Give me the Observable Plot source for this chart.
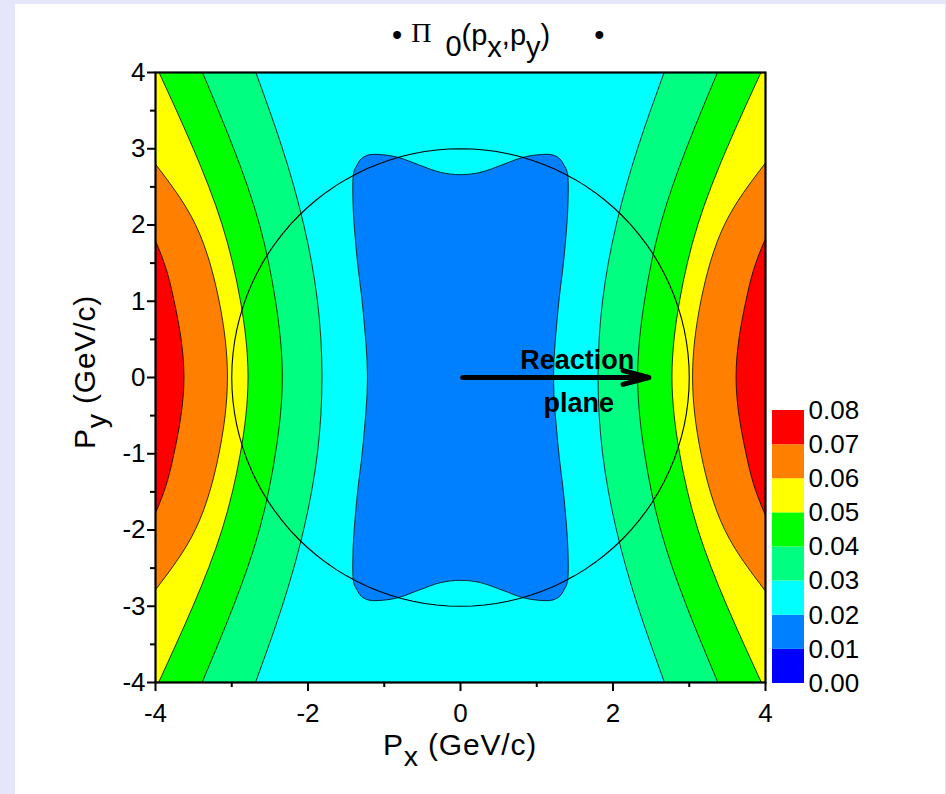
<!DOCTYPE html>
<html>
<head>
<meta charset="utf-8">
<script src="https://cdn.jsdelivr.net/npm/d3@7"></script>
<script src="https://cdn.jsdelivr.net/npm/@observablehq/plot@0.6"></script>
<style>
  html, body { margin: 0; padding: 0; background: #e6e6fa; }
  body { width: 946px; height: 794px; position: relative; overflow: hidden;
         font-family: "Liberation Sans", Arial, sans-serif; color: #000; }
  #panel { position: absolute; left: 15px; top: 4px; width: 930px; height: 790px; background: #fff; }
  #chart { position: absolute; left: 0; top: 0; }
  #legend { position: absolute; left: 760px; top: 395px; }
  #title { position: absolute; left: 392px; top: 18px; font-size: 29px; white-space: nowrap; line-height: 34px; }
  #title span { position: relative; display: inline-block; }
  #title .pi { font-family: "Liberation Serif", "DejaVu Serif", serif; font-size: 28px; top: -3px; margin-left: 9px; }
  #title .zero { top: 11px; margin-left: 14px; }
  #title .sb { top: 12px; }
  #title .end { margin-left: 44px; }
  .axtitle { position: absolute; font-size: 30px; white-space: nowrap; text-align: center; letter-spacing: 0.8px; }
  .axtitle .sb { position: relative; top: 0.4em; font-size: 0.95em; }
  #xtitle { left: 260px; width: 400px; top: 727px; line-height: 36px; }
  #ytitle { left: -115px; width: 400px; top: 354px; line-height: 36px; transform: rotate(-90deg); }
</style>
</head>
<body>
<div id="panel"></div>
<div id="chart"></div>
<div id="legend"></div>
<div id="title"><span>•</span><span class="pi">Π</span><span class="zero">0</span><span>(p</span><span class="sb">x</span><span>,p</span><span class="sb">y</span><span>)</span><span class="end">•</span></div>
<div id="xtitle" class="axtitle">P<span class="sb">x</span> (GeV/c)</div>
<div id="ytitle" class="axtitle">P<span class="sb">y</span> (GeV/c)</div>
<script>
// Contour levels of Π0(px, py) and the fill of each band (lower edge → colour).
const levels = [0, 0.01, 0.02, 0.03, 0.04, 0.05, 0.06, 0.07, 0.08];
const bandColors = ["#0000ff", "#0080ff", "#00ffff", "#00ff80", "#00ff00", "#ffff00", "#ff8000", "#ff0000"];

// Contour lines in the quadrant px ≥ 0, py ≥ 0 (the field is mirror-symmetric in px and py).
// For each level: rows of py and the px where that contour crosses the row;
// rows past the right edge follow the contour on out of the frame and are clipped.
const level03Py = [0, 1, 2, 3, 4];
const level03Px = [1.81, 1.87, 2.05, 2.33, 2.68];
const level04Py = [0, 1, 2, 3, 4];
const level04Px = [2.33, 2.42, 2.63, 2.97, 3.38];
const level05Py = [0, 1, 2, 3, 4];
const level05Px = [2.78, 2.88, 3.12, 3.50, 3.95];
const level06Py = [0, 1, 2, 2.8, 3.5, 4];
const level06Px = [3.05, 3.16, 3.47, 4.0, 4.52, 4.92];
const level07Py = [0, 1, 1.8, 3, 4];
const level07Px = [3.62, 3.75, 4.0, 4.6, 5.15];

// The 0.02 contour: closed pocket round the origin, quadrant outline from top centre to right centre.
const pocketPx = [0, 0.26, 0.55, 0.81, 1.01, 1.20, 1.30, 1.36, 1.40, 1.41, 1.36, 1.28, 1.22];
const pocketPy = [2.66, 2.69, 2.79, 2.885, 2.92, 2.92, 2.87, 2.78, 2.69, 2.30, 1.60, 0.90, 0];

// Reference circle |p| = 3 GeV/c and the reaction-plane arrow.
const circleRadius = 3;
const arrowFrom = [0.03, 0];
const arrowTo = [2.47, 0];
const arrowLabels = [
  {px: 1.53, py: 0.23, text: "Reaction"},
  {px: 1.55, py: -0.34, text: "plane"}
];

// Axis ticks.
const xMajor = [-4, -2, 0, 2, 4];
const xMinor = [-3, -1, 1, 3];
const yMajor = [-4, -3, -2, -1, 0, 1, 2, 3, 4];
const yMinor = [-3.5, -2.5, -1.5, -0.5, 0.5, 1.5, 2.5, 3.5];

const black = "#000";

// Mirror a quadrant contour into a band spanning -px..px for py from -4 to 4.
function bandRows(pys, pxs) {
  const upper = pys.map((py, i) => ({py, lo: -pxs[i], hi: pxs[i]}));
  const lower = upper.filter(d => d.py > 0).map(d => ({...d, py: -d.py})).reverse();
  return lower.concat(upper);
}

// Interior of each open contour, filled with the band just below that level.
const contours = [
  {rows: bandRows(level07Py, level07Px), fill: bandColors[6]},
  {rows: bandRows(level06Py, level06Px), fill: bandColors[5]},
  {rows: bandRows(level05Py, level05Px), fill: bandColors[4]},
  {rows: bandRows(level04Py, level04Px), fill: bandColors[3]},
  {rows: bandRows(level03Py, level03Px), fill: bandColors[2]}
];

// Full closed outline of the 0.02 pocket from its quadrant.
const q1 = pocketPx.map((x, i) => [x, pocketPy[i]]);
const q4 = q1.slice(0, -1).reverse().map(([x, y]) => [x, -y]);
const q3 = q1.slice(1).map(([x, y]) => [-x, -y]);
const q2 = q1.slice(1, -1).reverse().map(([x, y]) => [-x, y]);
const pocket = q1.concat(q4, q3, q2);

const circle = d3.range(0, 361, 3).map(a => [
  circleRadius * Math.cos(a * Math.PI / 180),
  circleRadius * Math.sin(a * Math.PI / 180)
]);

const fontFamily = "'Liberation Sans', Arial, sans-serif";

const chart = Plot.plot({
  width: 946,
  height: 794,
  marginLeft: 155,
  marginRight: 181,
  marginTop: 72,
  marginBottom: 112,
  x: {domain: [-4, 4], label: null},
  y: {domain: [-4, 4], label: null},
  style: {background: "transparent", fontFamily, color: black, overflow: "visible"},
  marks: [
    Plot.frame({fill: bandColors[7], stroke: null}),
    ...contours.map(c => Plot.areaX(c.rows, {
      y: "py", x1: "lo", x2: "hi", curve: "natural",
      fill: c.fill, stroke: black, strokeWidth: 0.8, clip: true
    })),
    Plot.line(pocket, {
      x: d => d[0], y: d => d[1], curve: "catmull-rom-closed",
      fill: bandColors[1], stroke: black, strokeWidth: 0.8
    }),
    Plot.line(circle, {x: d => d[0], y: d => d[1], stroke: black, strokeWidth: 1.1}),
    Plot.arrow([{from: arrowFrom, to: arrowTo}], {
      x1: d => d.from[0], y1: d => d.from[1], x2: d => d.to[0], y2: d => d.to[1],
      stroke: black, strokeWidth: 5, headAngle: 30, headLength: 8
    }),
    Plot.text(arrowLabels, {
      x: "px", y: "py", text: "text", fontSize: 27, fontWeight: "bold",
      fill: black, letterSpacing: "1.8px"
    }),
    Plot.frame({stroke: black, strokeWidth: 2.2}),
    Plot.axisX({ticks: xMajor, tickSize: 9, tickPadding: 12, fontSize: 26, strokeWidth: 2,
                tickFormat: d => String(d), label: null}),
    Plot.axisX({ticks: xMinor, tickSize: 5, strokeWidth: 2, tickFormat: () => "", label: null}),
    Plot.axisY({ticks: yMajor, tickSize: 8, tickPadding: 2, fontSize: 26, strokeWidth: 2,
                tickFormat: d => String(d), label: null}),
    Plot.axisY({ticks: yMinor, tickSize: 5, strokeWidth: 2, tickFormat: () => "", label: null})
  ]
});
document.getElementById("chart").appendChild(chart);

// Colour key: one swatch per band, labelled at the band edges.
const bands = bandColors.map((color, i) => ({lo: levels[i], hi: levels[i + 1], color}));
const legend = Plot.plot({
  width: 130,
  height: 310,
  marginLeft: 12,
  marginRight: 86,
  marginTop: 15,
  marginBottom: 22,
  y: {domain: [0, 0.08], label: null},
  color: {type: "identity"},
  style: {background: "transparent", fontFamily, color: black, overflow: "visible"},
  marks: [
    Plot.rect(bands, {y1: "lo", y2: "hi", fill: "color"}),
    Plot.axisY({anchor: "right", ticks: levels, tickSize: 0, tickPadding: 4, fontSize: 26,
                tickFormat: d3.format(".2f"), label: null})
  ]
});
document.getElementById("legend").appendChild(legend);
</script>
</body>
</html>
